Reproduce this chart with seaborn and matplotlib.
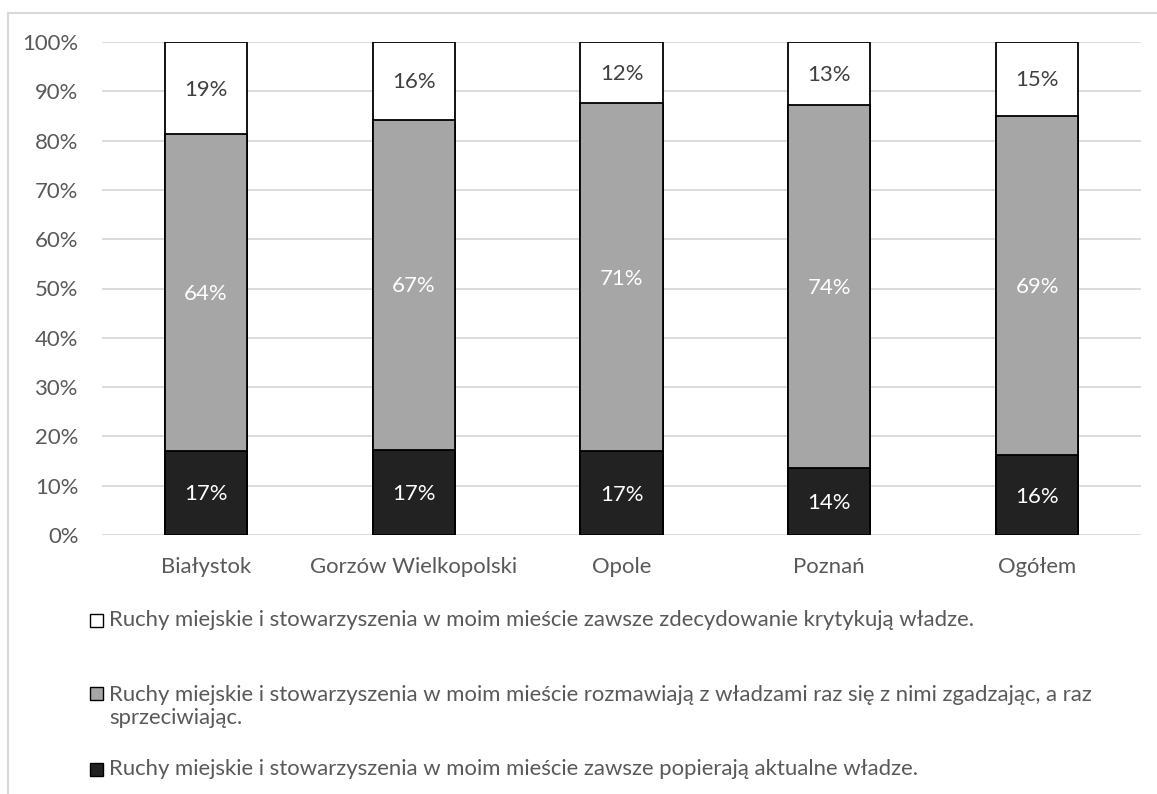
import matplotlib
matplotlib.use("Agg")
import matplotlib.pyplot as plt
from matplotlib.patches import Rectangle
import seaborn as sns
import pandas as pd

# Survey shares (percent) per city
cities = ["Białystok", "Gorzów Wielkopolski", "Opole", "Poznań", "Ogółem"]
support = [17.1, 17.3, 17.0, 13.6, 16.2]       # zawsze popierają
dialogue = [64.2, 66.9, 70.6, 73.6, 68.8]      # rozmawiają z władzami
critical = [18.7, 15.8, 12.4, 12.8, 15.0]      # zawsze krytykują
yticks = [0, 10, 20, 30, 40, 50, 60, 70, 80, 90, 100]

legend_labels = [
    "Ruchy miejskie i stowarzyszenia w moim mieście zawsze zdecydowanie krytykują władze.",
    "Ruchy miejskie i stowarzyszenia w moim mieście rozmawiają z władzami raz się z nimi zgadzając, a raz\nsprzeciwiając.",
    "Ruchy miejskie i stowarzyszenia w moim mieście zawsze popierają aktualne władze.",
]

df = pd.DataFrame({"city": cities, "support": support,
                   "dialogue": dialogue, "critical": critical})
df["top_support"] = df["support"]
df["top_dialogue"] = df["support"] + df["dialogue"]
df["top_critical"] = df["top_dialogue"] + df["critical"]

sns.set_theme(style="white")
plt.rcParams["font.family"] = ["Lato", "DejaVu Sans"]

W, H = 1157, 794
fig = plt.figure(figsize=(W / 100, H / 100), dpi=100)
ax = fig.add_axes([102 / W, 1 - 535 / H, (1141 - 102) / W, (535 - 42) / H])

FS = 15.9
TXT = "#595959"
colors = {"critical": "#ffffff", "dialogue": "#a6a6a6", "support": "#222222"}

# Stacked bars: draw cumulative totals from the top segment down
for key, top in [("critical", "top_critical"), ("dialogue", "top_dialogue"),
                 ("support", "top_support")]:
    sns.barplot(data=df, x="city", y=top, color=colors[key], saturation=1,
                width=0.395, edgecolor="black", linewidth=1.3, ax=ax, zorder=3)

# Segment labels centred in each segment
for i, row in df.iterrows():
    segs = [(row["support"], 0, "white"),
            (row["dialogue"], row["support"], "white"),
            (row["critical"], row["top_dialogue"], "#404040")]
    for val, base, col in segs:
        ax.text(i, base + val / 2 - 0.3, f"{val:.0f}%", ha="center", va="center",
                fontsize=FS, color=col, zorder=5)

ax.set_ylim(0, 100)
ax.set_xlim(-0.5, len(cities) - 0.5)
ax.set_yticks(yticks)
ax.set_yticklabels([f"{t}%" for t in yticks])
ax.yaxis.grid(True, color="#d9d9d9", linewidth=1.3, zorder=0)
ax.set_axisbelow(True)
for s in ax.spines.values():
    s.set_visible(False)
ax.tick_params(axis="both", length=0, labelsize=FS, labelcolor=TXT)
ax.tick_params(axis="y", pad=17)
ax.tick_params(axis="x", pad=16)
ax.set_xlabel("")
ax.set_ylabel("")

# Chart frame (top and left edges)
fig.add_artist(plt.Line2D([8 / W, 1], [1 - 13 / H, 1 - 13 / H], color="#d9d9d9",
                          linewidth=1.5, transform=fig.transFigure))
fig.add_artist(plt.Line2D([8 / W, 8 / W], [1 - 13 / H, 0], color="#d9d9d9",
                          linewidth=1.5, transform=fig.transFigure))

# Legend below the plot
legend_colors = [colors["critical"], colors["dialogue"], colors["support"]]
legend_y = [620, 693, 769]
line_h = 27
for lab, col, yy in zip(legend_labels, legend_colors, legend_y):
    fig.add_artist(Rectangle((90 / W, 1 - (yy + 6.5) / H), 13 / W, 13 / H,
                             facecolor=col, edgecolor="black", linewidth=1.0,
                             transform=fig.transFigure))
    n_extra = lab.count("\n")
    fig.text(109 / W, 1 - (yy + n_extra * line_h / 2) / H, lab, ha="left",
             va="center", fontsize=FS, color=TXT, linespacing=1.2)

fig.savefig("out.png", dpi=100)
